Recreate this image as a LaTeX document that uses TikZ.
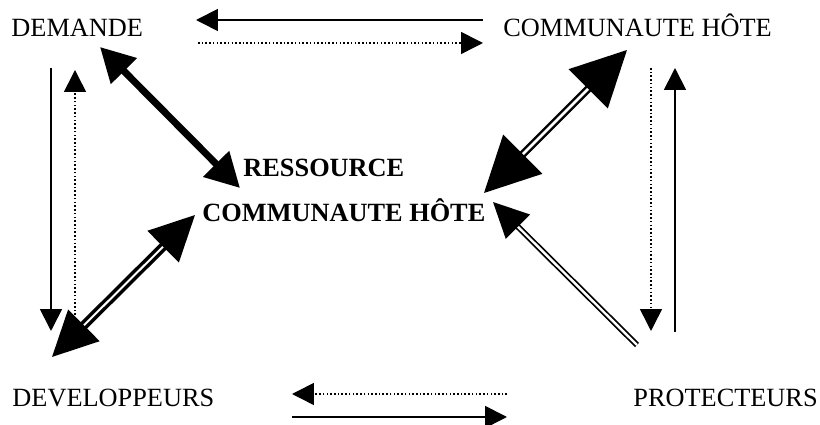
\documentclass[tikz,border=0pt]{standalone}
\usepackage{fontspec}
\setmainfont{Liberation Serif}
\usetikzlibrary{arrows.meta}
\begin{document}
\begin{tikzpicture}[x=0.456pt, y=-0.456pt,
        lbl/.style={inner sep=0pt, anchor=base west, font=\fontsize{12}{14}\selectfont},
        flow/.style={line width=0.8pt, -{Triangle[length=10pt, width=10pt]}},
        dotflow/.style={flow, line width=0.7pt, dash pattern=on 0.7pt off 1.0pt},
        heavy/.style={line width=3.2pt, {Triangle[length=15.5pt, width=16pt]}-{Triangle[length=15.5pt, width=16pt]}},
        twin/.style={double, line width=1.1pt, double distance=1.2pt}]
            \useasboundingbox (0,0) rectangle (820,425);

            \node[lbl] (dem) at (11,37) {DEMANDE};
            \node[lbl] (hote) at (503,37) {COMMUNAUTE HÔTE};
            \node[lbl] (dev) at (12,407) {DEVELOPPEURS};
            \node[lbl] (prot) at (633,407) {PROTECTEURS};
            \node[lbl, font=\fontsize{12}{14}\selectfont\bfseries] (res) at (243,177) {RESSOURCE};
            \node[lbl, font=\fontsize{12}{14}\selectfont\bfseries] (reshote) at (202,222) {COMMUNAUTE HÔTE};

            % end points of the connectors
            \coordinate (a1) at (483,20);  \coordinate (a2) at (196,20);
            \coordinate (b1) at (198,43);  \coordinate (b2) at (483,43);
            \coordinate (c1) at (51,68);   \coordinate (c2) at (51,331);
            \coordinate (d1) at (75,315);  \coordinate (d2) at (75,70);
            \coordinate (e1) at (507,394); \coordinate (e2) at (292,394);
            \coordinate (f1) at (292,417); \coordinate (f2) at (507,417);
            \coordinate (g1) at (651,68);  \coordinate (g2) at (651,331);
            \coordinate (h1) at (675,332); \coordinate (h2) at (675,68);
            \coordinate (k1) at (100,47);  \coordinate (k2) at (240,188);
            \coordinate (m1) at (627,50);  \coordinate (m2) at (484,193);
            \coordinate (n1) at (52,357);  \coordinate (n2) at (195,215);
            \coordinate (p1) at (637,345); \coordinate (p2) at (493,202);

            \draw[flow] (a1) -- (a2);
            \draw[dotflow] (b1) -- (b2);
            \draw[flow] (c1) -- (c2);
            \draw[dotflow] (d1) -- (d2);
            \draw[dotflow] (e1) -- (e2);
            \draw[flow] (f1) -- (f2);
            \draw[dotflow] (g1) -- (g2);
            \draw[flow] (h1) -- (h2);

            \draw[heavy] (k1) -- (k2);
            \draw[twin, {Triangle[length=25pt, width=25pt]}-{Triangle[length=25pt, width=25pt]}] (m1) -- (m2);
            \draw[twin, line width=1.6pt, double distance=0.9pt, {Triangle[length=20.5pt, width=20pt]}-{Triangle[length=20.5pt, width=20pt]}] (n1) -- (n2);
            \draw[twin, line width=0.8pt, double distance=1.1pt, -{Triangle[length=16pt, width=15.5pt]}] (p1) -- (p2);
        \end{tikzpicture}
\end{document}
